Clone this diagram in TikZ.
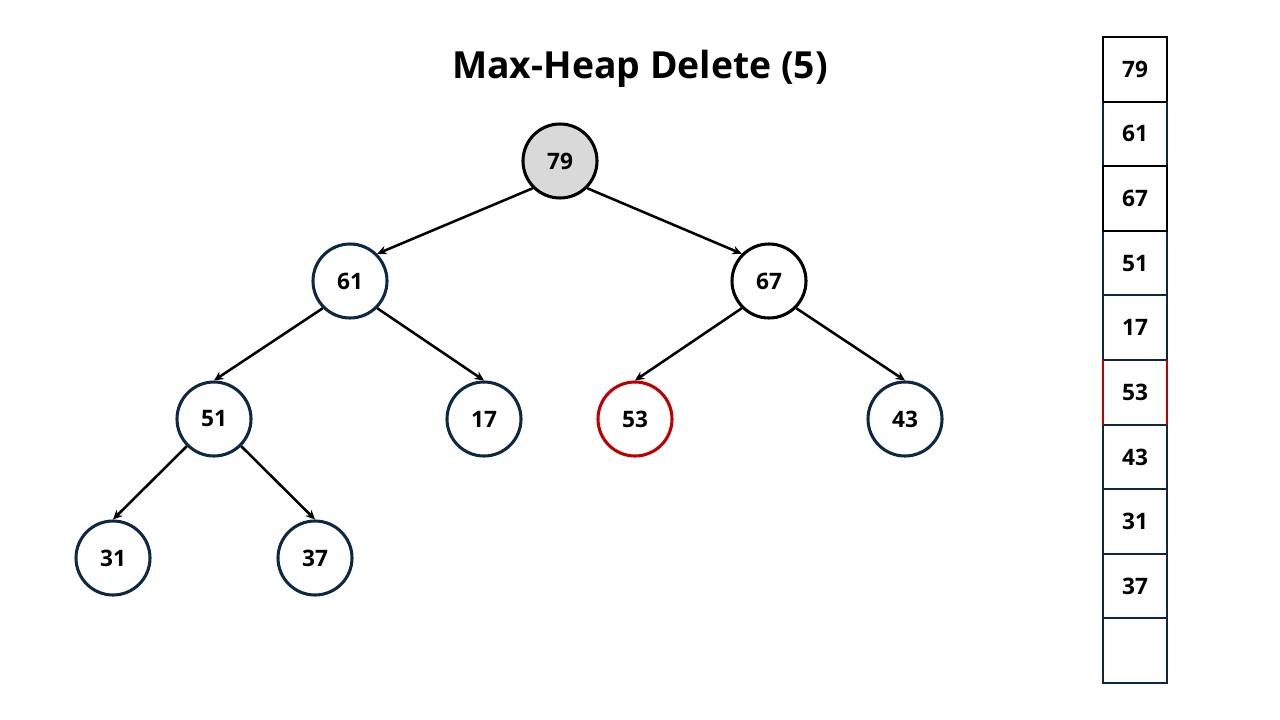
\documentclass[tikz,border=0pt]{standalone}
\usepackage{fontspec}
\setmainfont{Open Sans}
\usetikzlibrary{positioning,arrows.meta}
\definecolor{navy}{HTML}{0E2841}
\definecolor{heapred}{HTML}{C00000}
\definecolor{rootgray}{HTML}{D9D9D9}

\begin{document}
\begin{tikzpicture}[x=0.75pt,y=-0.75pt,
  key/.style={circle,draw=navy,line width=2.3pt,minimum size=55.5pt,inner sep=0pt,font=\bfseries\fontsize{17}{19}\selectfont},
  cell/.style={rectangle,draw=navy,line width=1.4pt,minimum width=48pt,minimum height=48.45pt,inner sep=0pt,outer sep=0pt,font=\bfseries\fontsize{17}{19}\selectfont},
  link/.style={-{Stealth[length=7pt,width=6.5pt]},line width=1.9pt}]
\useasboundingbox (0,0) rectangle (1280,720);
\node [font=\bfseries\fontsize{28}{32}\selectfont] (title) at (640,69) {Max-Heap Delete\ (5)};
\node [key,draw=black,fill=rootgray] (k79) at (560,161) {79};
\node [key] (k61) at (350,281) {61};
\node [key,draw=black] (k67) at (769,281) {67};
\node [key] (k51) at (214,419) {51};
\node [key] (k17) at (484,419) {17};
\node [key,draw=heapred] (k53) at (635,419) {53};
\node [key] (k43) at (905,419) {43};
\node [key] (k31) at (113,558) {31};
\node [key] (k37) at (315,558) {37};
\draw [link] (k79.south west) -- (k61.north east);
\draw [link] (k79.south east) -- (k67.north west);
\draw [link] (k61.south west) -- (k51.north);
\draw [link] (k61.south east) -- (k17.north);
\draw [link] (k67.south west) -- (k53.north);
\draw [link] (k67.south east) -- (k43.north);
\draw [link] (k51.south west) -- (k31.north);
\draw [link] (k51.south east) -- (k37.north);
\foreach \v/\c [count=\i from 0] in {79/black,61/navy,67/black,51/navy,17/navy,53/navy,43/navy,31/navy,37/navy,{}/navy}
  \node [cell,draw=\c] (c\i) at (1135,{69.3+64.6*\i}) {\v};
\draw [black,line width=1.4pt] (c0.south west) -- (c0.south east) (c2.north west) rectangle (c2.south east);
\draw [heapred,line width=1.4pt] (c5.north west) -- (c5.south west) (c5.north east) -- (c5.south east);
\end{tikzpicture}
\end{document}
